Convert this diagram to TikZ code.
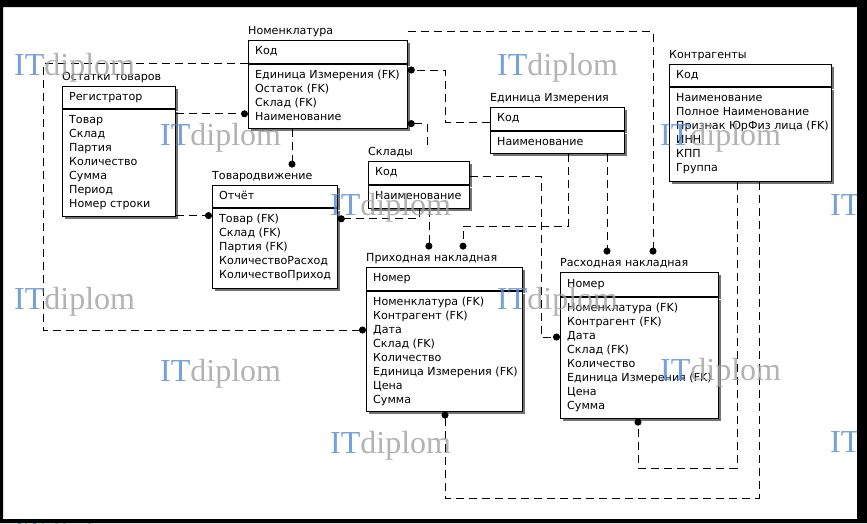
\documentclass[tikz,border=0pt]{standalone}
\usepackage{fontspec}
\newfontfamily\erfont{DejaVu Sans}
\newfontfamily\wmfont{Liberation Serif}
\usetikzlibrary{arrows.meta,
positioning,
shadows}
\definecolor{wmblue}{RGB}{84,138,214}
\definecolor{wmgray}{RGB}{160,160,160}

\begin{document}
\begin{tikzpicture}[
  x=1pt, y=-1pt,
  every node/.style={inner sep=0pt},
  entbox/.style={draw, fill=white, line width=0.8pt, anchor=north west,
    drop shadow={shadow xshift=3pt, shadow yshift=-3pt, fill=black!55, opacity=1}},
  ertext/.style={font=\erfont\fontsize{11.1}{14}\selectfont},
  enttitle/.style={ertext, anchor=south west, inner ysep=3pt, text height=8pt, text depth=2pt},
  keytext/.style={ertext, anchor=west, inner xsep=7pt, text height=8pt, text depth=2.5pt},
  atttext/.style={ertext, anchor=north west, align=left, inner xsep=7pt, inner ysep=6.5pt},
  rel/.style={line width=0.8pt, dash pattern=on 8pt off 5pt, -{Circle[length=7pt]}},
  wmark/.style={anchor=base west, font=\wmfont\fontsize{32}{32}\selectfont, opacity=0.8}
]

  \fill[white] (0,0) rectangle (867,523);
  \useasboundingbox (0,0) rectangle (867,523);

  % Номенклатура
  \node [entbox, minimum width=159pt, minimum height=23pt] (nomK) at (248,40) {};
  \node [entbox, minimum width=159pt, minimum height=64pt, below=0pt of nomK] (nomA) {};
  \node [enttitle] (nomT) at (nomK.north west) {Номенклатура};
  \node [keytext] (nomKt) at (nomK.west) {Код};
  \node [atttext] (nomAt) at (nomA.north west) {Единица Измерения (FK)\\Остаток (FK)\\Склад (FK)\\Наименование};

  % Остатки товаров
  \node [entbox, minimum width=113pt, minimum height=22pt] (ostK) at (62,86) {};
  \node [entbox, minimum width=113pt, minimum height=107pt, below=0pt of ostK] (ostA) {};
  \node [enttitle] (ostT) at (ostK.north west) {Остатки товаров};
  \node [keytext] (ostKt) at (ostK.west) {Регистратор};
  \node [atttext] (ostAt) at (ostA.north west) {Товар\\Склад\\Партия\\Количество\\Сумма\\Период\\Номер строки};

  % Товародвижение
  \node [entbox, minimum width=125pt, minimum height=22pt] (tovK) at (212,185) {};
  \node [entbox, minimum width=125pt, minimum height=80pt, below=0pt of tovK] (tovA) {};
  \node [enttitle] (tovT) at (tovK.north west) {Товародвижение};
  \node [keytext] (tovKt) at (tovK.west) {Отчёт};
  \node [atttext] (tovAt) at (tovA.north west) {Товар (FK)\\Склад (FK)\\Партия (FK)\\КоличествоРасход\\КоличествоПриход};

  % Склады
  \node [entbox, minimum width=101pt, minimum height=23pt] (sklK) at (368,161) {};
  \node [entbox, minimum width=101pt, minimum height=23pt, below=0pt of sklK] (sklA) {};
  \node [enttitle] (sklT) at (sklK.north west) {Склады};
  \node [keytext] (sklKt) at (sklK.west) {Код};
  \node [atttext] (sklAt) at (sklA.north west) {Наименование};

  % Единица Измерения
  \node [entbox, minimum width=134pt, minimum height=23pt] (edK) at (490,107) {};
  \node [entbox, minimum width=134pt, minimum height=22pt, below=0pt of edK] (edA) {};
  \node [enttitle] (edT) at (edK.north west) {Единица Измерения};
  \node [keytext] (edKt) at (edK.west) {Код};
  \node [atttext] (edAt) at (edA.north west) {Наименование};

  % Контрагенты
  \node [entbox, minimum width=162pt, minimum height=22pt] (konK) at (669,64) {};
  \node [entbox, minimum width=162pt, minimum height=94pt, below=0pt of konK] (konA) {};
  \node [enttitle] (konT) at (konK.north west) {Контрагенты};
  \node [keytext] (konKt) at (konK.west) {Код};
  \node [atttext] (konAt) at (konA.north west) {Наименование\\Полное Наименование\\Признак ЮрФиз лица (FK)\\ИНН\\КПП\\Группа};

  % Приходная накладная
  \node [entbox, minimum width=156pt, minimum height=23pt] (prihK) at (366,267) {};
  \node [entbox, minimum width=156pt, minimum height=120pt, below=0pt of prihK] (prihA) {};
  \node [enttitle] (prihT) at (prihK.north west) {Приходная накладная};
  \node [keytext] (prihKt) at (prihK.west) {Номер};
  \node [atttext] (prihAt) at (prihA.north west) {Номенклатура (FK)\\Контрагент (FK)\\Дата\\Склад (FK)\\Количество\\Единица Измерения (FK)\\Цена\\Сумма};

  % Расходная накладная
  \node [entbox, minimum width=158pt, minimum height=24pt] (rashK) at (560,272) {};
  \node [entbox, minimum width=158pt, minimum height=121pt, below=0pt of rashK] (rashA) {};
  \node [enttitle] (rashT) at (rashK.north west) {Расходная накладная};
  \node [keytext] (rashKt) at (rashK.west) {Номер};
  \node [atttext] (rashAt) at (rashA.north west) {Номенклатура (FK)\\Контрагент (FK)\\Дата\\Склад (FK)\\Количество\\Единица Измерения (FK)\\Цена\\Сумма};

  % связи
  \coordinate (c1) at ([xshift=44pt]nomA.south west);
  \draw [rel, shorten >=1pt] (c1) -- (c1 |- tovT.north);

  \coordinate (c2) at ([yshift=-5pt]ostA.north east);
  \draw [rel] (c2) -- (c2 -| nomA.west);

  \coordinate (c3) at ([yshift=1pt]ostA.south east);
  \draw [rel] (c3) -- (c3 -| tovA.west);

  \coordinate (b4) at (43,330);
  \draw [rel] (nomK.south west) -| (b4) -- (b4 -| prihA.west);

  \coordinate (c5) at ([yshift=-3pt]edK.west);
  \coordinate (b5) at (445,70);
  \draw [rel] (c5) -| (b5) -- (b5 -| nomA.east);

  \coordinate (c6) at ([xshift=59pt]sklT.north west);
  \draw [rel] (c6) |- ([yshift=5pt]nomA.south east);

  \draw [rel] (sklA.south) |- ([yshift=-11pt]tovA.north east);

  \coordinate (c8) at ([xshift=10pt]sklA.south);
  \draw [rel, shorten >=1pt] (c8) -- (c8 |- prihT.north);

  \coordinate (c9) at ([xshift=78pt]edA.south west);
  \coordinate (b9) at (463,226);
  \draw [rel, shorten >=1pt] (c9) |- (b9) -- (b9 |- prihT.north);

  \coordinate (c10) at ([xshift=117pt]edA.south west);
  \draw [rel, shorten >=1pt] (c10) -- (c10 |- rashT.north);

  \coordinate (c11) at ([yshift=-3pt]sklK.east);
  \coordinate (b11) at (541,337);
  \draw [rel] (c11) -| (b11) -- (b11 -| rashA.west);

  \coordinate (c12) at ([xshift=93pt]rashT.north west);
  \draw [rel, shorten >=1pt] (nomT -| nomK.east) -| (c12);

  \coordinate (c13) at ([xshift=68pt]konA.south west);
  \coordinate (b13) at (737,468);
  \coordinate (e13) at ([xshift=78pt]rashA.south west);
  \draw [rel] (c13) -- (b13) -| (e13);

  \coordinate (c14) at ([xshift=90pt]konA.south west);
  \coordinate (b14) at (759,498);
  \coordinate (e14) at ([xshift=79pt]prihA.south west);
  \draw [rel] (c14) -- (b14) -| (e14);

  \foreach \x/\y [count=\i] in {14/75, 497/75, 160/145, 660/145, 330/215, 830/215,
    14/309, 497/309, 160/381, 660/380, 330/453, 830/452, 14/542} {
    \node [wmark] (wm\i) at (\x,\y) {{\color{wmblue}IT}{\color{wmgray}diplom}};
  }

  \fill [black, even odd rule] (0,0) rectangle (867,523) (3,7) rectangle (857,519);

\end{tikzpicture}
\end{document}
